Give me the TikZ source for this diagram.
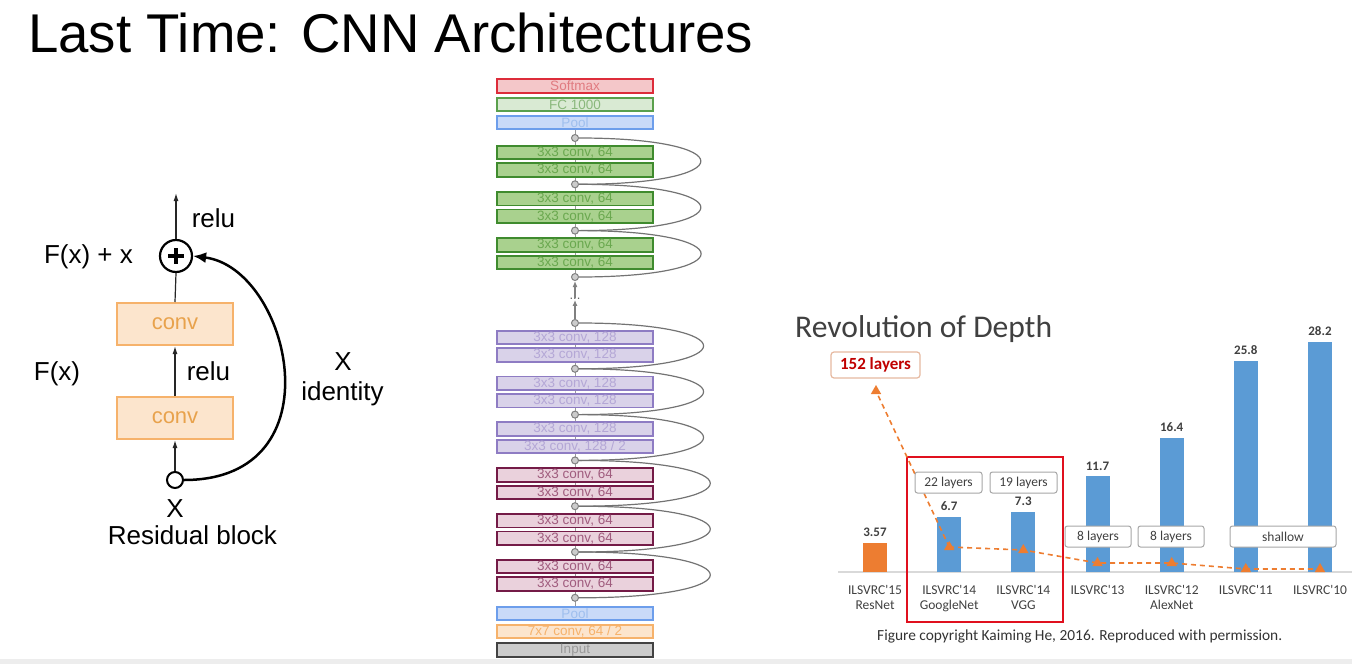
\documentclass[tikz,border=0pt]{standalone}
\usepackage{fontspec}
\setmainfont{Liberation Sans}
\newfontfamily\cali{Carlito}
\usetikzlibrary{arrows.meta,shapes.geometric}
\pgfdeclarelayer{background}
\pgfsetlayers{background,main}
\definecolor{convfill}{HTML}{FCE5CD}
\definecolor{convline}{HTML}{F6B26B}
\definecolor{convtext}{HTML}{E8A24C}
\definecolor{smline}{HTML}{DD2C3A}
\definecolor{smfill}{HTML}{F4C7C9}
\definecolor{smtext}{HTML}{E07B80}
\definecolor{fcline}{HTML}{5AA04C}
\definecolor{fcfill}{HTML}{D9EAD3}
\definecolor{fctext}{HTML}{8AB87C}
\definecolor{plline}{HTML}{6D9EEB}
\definecolor{plfill}{HTML}{C9DAF8}
\definecolor{pltext}{HTML}{9FBFEE}
\definecolor{gline}{HTML}{3F8B2E}
\definecolor{gfill}{HTML}{A9D18E}
\definecolor{gtext}{HTML}{6AA84F}
\definecolor{pline}{HTML}{8E7CC3}
\definecolor{pfill}{HTML}{D9D2E9}
\definecolor{ptext}{HTML}{B4A7D6}
\definecolor{mline}{HTML}{741B47}
\definecolor{mfill}{HTML}{EAD1DC}
\definecolor{mtext}{HTML}{A05C7E}
\definecolor{inpline}{HTML}{434343}
\definecolor{inpfill}{HTML}{CCCCCC}
\definecolor{inptext}{HTML}{999999}
\definecolor{barblue}{HTML}{5B9BD5}
\definecolor{barorange}{HTML}{ED7D31}
\definecolor{chtext}{HTML}{404040}
\definecolor{hlred}{HTML}{E0101E}
\definecolor{dkred}{HTML}{C00000}
\definecolor{boxbrown}{HTML}{E6B9A0}
\tikzset{
 lbl/.style={inner sep=0, font=\fontsize{26}{31}\selectfont, text=black},
 thinarr/.style={draw=black!85, line width=1.2, -{Latex[length=8,width=5]}},
 convbox/.style={draw=convline, fill=convfill, line width=2, minimum width=116, minimum height=42, inner sep=0, text=convtext, font=\fontsize{22}{26}\selectfont},
 layerbox/.style={line width=1.8, minimum width=156, minimum height=13.5, inner sep=0, font=\fontsize{13.5}{14}\selectfont},
 smbox/.style={layerbox, draw=smline, fill=smfill, text=smtext},
 fcbox/.style={layerbox, draw=fcline, fill=fcfill, text=fctext},
 plbox/.style={layerbox, draw=plline, fill=plfill, text=pltext},
 gconv/.style={layerbox, draw=gline, fill=gfill, text=gtext},
 pconv/.style={layerbox, draw=pline, fill=pfill, text=ptext},
 mconv/.style={layerbox, draw=mline, fill=mfill, text=mtext},
 cvbox/.style={layerbox, draw=convline, fill=convfill, text=convline},
 inpbox/.style={layerbox, draw=inpline, fill=inpfill, text=inptext},
 joint/.style={circle, draw=black!50, fill=black!20, line width=1, minimum size=7, inner sep=0},
 skiparc/.style={draw=black!55, line width=1.2},
 vline/.style={draw=black!40, line width=1},
 grayarr/.style={draw=black!50, line width=1.2, -{Latex[length=6,width=5]}},
 bar/.style={minimum width=24, inner sep=0, anchor=south},
 val/.style={font=\cali\bfseries\fontsize{13}{15}\selectfont, text=chtext, inner sep=0, anchor=base},
 cat/.style={font=\cali\fontsize{13.5}{15.5}\selectfont, text=chtext, inner sep=0, align=center, anchor=base},
 lyr/.style={draw=black!35, fill=white, rounded corners=2.5, line width=1, minimum height=21, inner sep=0, font=\cali\fontsize{13.5}{16}\selectfont, text=chtext},
 trend/.style={draw=barorange, line width=1.6, dash pattern=on 5 off 4},
 tri/.style={regular polygon, regular polygon sides=3, fill=barorange, minimum size=12, inner sep=0},
}
\begin{document}
\begin{tikzpicture}[x=1pt,y=-1pt]
\useasboundingbox (0,0) rectangle (1352,664);
\fill[black!7] (0,659) rectangle (1352,664);

% Title
\node[anchor=base west, inner sep=0, font=\fontsize{54.6}{60}\selectfont] (title) at (28,52) {Last Time: CNN Architectures};

% ---------- Residual block ----------
\node[draw, circle, minimum size=32, line width=2.2, inner sep=0, fill=white] (plus) at (176,256) {};
\draw[line width=3.4] (plus.center) +(-8,0) -- +(8,0);
\draw[line width=3.4] (plus.center) +(0,-8) -- +(0,8);
\node[convbox] (conv2) at (175,324) {conv};
\node[convbox] (conv1) at (175,418) {conv};
\node[draw, circle, minimum size=16, line width=2, inner sep=0, fill=white] (xin) at (175,480) {};
\coordinate (outtop) at (176,193);
\draw[thinarr] (plus.north) -- (outtop);
\draw[draw=black!85, line width=1.2] (conv2.north) -- (plus.south);
\draw[thinarr] (conv1.north) -- (conv2.south);
\draw[thinarr] (xin.north) -- (conv1.south);
\draw[line width=2.5, -{Latex[length=13,width=11]}] (xin.east) .. controls (340,480) and (290,268) .. (plus.east);
\node[lbl, anchor=base] (relu1) at (213.5,227) {relu};
\node[lbl, anchor=base] (fxx) at (88.5,263) {F(x) + x};
\node[lbl, anchor=base] (fx) at (57,380) {F(x)};
\node[lbl, anchor=base] (relu2) at (208.5,380) {relu};
\node[lbl, anchor=base] (xr) at (343,370) {X};
\node[lbl, anchor=base] (ident) at (342.5,400) {identity};
\node[lbl, anchor=base] (xb) at (175,517) {X};
\node[lbl, anchor=base] (rb) at (192.5,544) {Residual block};

% ---------- ResNet column ----------
\node[smbox] (softmax) at (575,86) {Softmax};
\node[fcbox] (fc) at (575,104.5) {FC 1000};
\node[plbox] (pooltop) at (575,122.5) {Pool};
\foreach \n/\y in {g0/138, g1/184.3, g2/230.6, g3/277, p0/323, p1/368.8, p2/414.6, p3/460.4, m1/506.2, m2/552, m3/597.8}
  \node[joint] (\n) at (575,\y) {};
\foreach \c/\y in {g0/138, g1/184.3, g2/230.6} {
  \node[gconv] (\c-a) at (575,\y+14.5) {3x3 conv, 64};
  \node[gconv] (\c-b) at (575,\y+32) {3x3 conv, 64};
}
\foreach \c/\y in {p0/323, p1/368.8} {
  \node[pconv] (\c-a) at (575,\y+14.5) {3x3 conv, 128};
  \node[pconv] (\c-b) at (575,\y+32) {3x3 conv, 128};
}
\node[pconv] (p2-a) at (575,414.6+14.5) {3x3 conv, 128};
\node[pconv] (p2-b) at (575,414.6+32) {3x3 conv, 128 / 2};
\foreach \c/\y in {p3/460.4, m1/506.2, m2/552} {
  \node[mconv] (\c-a) at (575,\y+14.5) {3x3 conv, 64};
  \node[mconv] (\c-b) at (575,\y+32) {3x3 conv, 64};
}
\node[plbox] (poolbot) at (575,613.5) {Pool};
\node[cvbox] (conv7) at (575,631.5) {7x7 conv, 64 / 2};
\node[inpbox] (input) at (575,650) {Input};
\node[inner sep=0, font=\fontsize{13}{13}\selectfont, text=black!60] (dots) at (575,299) {...};
\begin{pgfonlayer}{background}
  \draw[vline] (pooltop.south) -- (g3);
  \draw[vline] (p0) -- (poolbot.north);
  \foreach \a/\b/\L in {g0/g1/9, g1/g2/9, g2/g3/9, p0/p1/9.3, p1/p2/9.3, p2/p3/9.3, p3/m1/9.8, m1/m2/9.8, m2/m3/9.8}
    \draw[skiparc] (\a.east) to[out=0, in=0, looseness=\L] (\b.east);
\end{pgfonlayer}
\draw[grayarr] (dots.north) -- (g3.south);
\draw[grayarr] (p0.north) -- (dots.south);

% ---------- Revolution of Depth chart ----------
\node[font=\cali\fontsize{31.6}{36}\selectfont, text=chtext, inner sep=0, anchor=base west] (rev) at (795,337) {Revolution of Depth};
\coordinate (axl) at (838,572);
\coordinate (axr) at (1352,572);
\draw[black!15, line width=1.2] (axl) -- (axr);
\foreach \n/\x/\v/\c in {b1/875/3.57/barorange, b2/949.2/6.7/barblue, b3/1023.3/7.3/barblue, b4/1097.5/11.7/barblue, b5/1171.7/16.4/barblue, b6/1245.8/25.8/barblue, b7/1320/28.2/barblue} {
  \node[bar, fill=\c, minimum height=\v*8.16] (\n) at (\x,572) {};
  \node[val] (\n-v) at (\x,572-\v*8.16-6.5) {\v};
}
\node[cat] (c1) at (875,609.5) {ILSVRC'15\\ResNet};
\node[cat] (c2) at (949.2,609.5) {ILSVRC'14\\GoogleNet};
\node[cat] (c3) at (1023.3,609.5) {ILSVRC'14\\VGG};
\node[cat] (c4) at (1097.5,594) {ILSVRC'13};
\node[cat] (c5) at (1171.7,609.5) {ILSVRC'12\\AlexNet};
\node[cat] (c6) at (1245.8,594) {ILSVRC'11};
\node[cat] (c7) at (1320,594) {ILSVRC'10};

\node[draw=hlred, line width=2.5, minimum width=156, minimum height=165, inner sep=0] (hl) at (985,539.5) {};

\coordinate (t0) at (876,391);
\coordinate (t1) at (949.2,547);
\coordinate (t2) at (1023.3,550);
\coordinate (t3) at (1097.5,563);
\coordinate (t4) at (1171.7,563);
\coordinate (t5) at (1245.8,569);
\coordinate (t6) at (1320,569);
\draw[trend] (t1) -- (t2) -- (t3) -- (t4) -- (t5) -- (t6);
\draw[trend] (t1) -- (t0);
\foreach \t in {t0,t1,t2,t3,t4,t5,t6}
  \node[tri] (mk\t) at (\t) {};

\node[lyr, minimum width=67] (l22) at (948.5,482.5) {22 layers};
\node[lyr, minimum width=67] (l19) at (1023.5,482.5) {19 layers};
\node[lyr, minimum width=66] (l13) at (1098,536.5) {8 layers};
\node[lyr, minimum width=66] (l12) at (1171,536.5) {8 layers};
\node[lyr, minimum width=106] (lsh) at (1283,536.5) {shallow};

\node[draw=boxbrown, fill=white, rounded corners=3, line width=1.2, minimum width=89, minimum height=26, inner sep=0, font=\cali\bfseries\fontsize{17}{20}\selectfont, text=dkred] (l152) at (875.5,365) {152 layers};

\node[font=\cali\fontsize{15.4}{18}\selectfont, text=black!80, anchor=base west, inner sep=0] (cp) at (877,640) {Figure copyright Kaiming He, 2016. Reproduced with permission.};
\end{tikzpicture}
\end{document}
